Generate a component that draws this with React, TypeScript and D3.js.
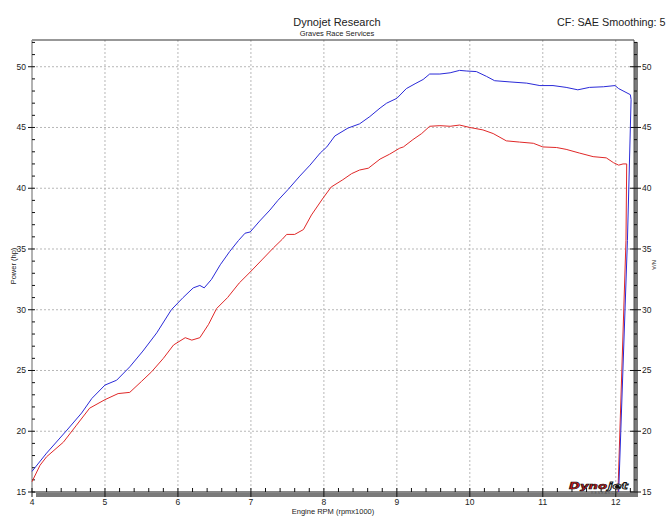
import React from "react";
import * as d3 from "d3";

const xTickLabels = [4, 5, 6, 7, 8, 9, 10, 11, 12];
const yTickLabels = [15, 20, 25, 30, 35, 40, 45, 50];

const blueRpm = [4.0, 4.2, 4.48, 4.68, 4.82, 5.0, 5.16, 5.34, 5.52, 5.71, 5.91, 6.07, 6.21, 6.3, 6.36, 6.46, 6.58, 6.71, 6.83, 6.92, 6.99, 7.12, 7.26, 7.37, 7.51, 7.67, 7.81, 7.95, 8.04, 8.15, 8.33, 8.49, 8.63, 8.77, 8.86, 9.0, 9.13, 9.25, 9.36, 9.45, 9.59, 9.73, 9.86, 9.95, 10.09, 10.23, 10.34, 10.55, 10.78, 10.96, 11.14, 11.32, 11.48, 11.64, 11.83, 11.99, 12.04, 12.2, 12.21, 12.16, 12.04];
const blueHp = [16.7, 18.2, 20.1, 21.5, 22.7, 23.8, 24.2, 25.3, 26.6, 28.1, 30.0, 31.0, 31.8, 32.0, 31.8, 32.5, 33.7, 34.8, 35.7, 36.3, 36.4, 37.3, 38.2, 39.0, 39.9, 41.0, 41.9, 42.9, 43.4, 44.3, 44.95, 45.3, 45.9, 46.6, 47.0, 47.4, 48.2, 48.6, 48.95, 49.4, 49.4, 49.5, 49.7, 49.65, 49.6, 49.2, 48.85, 48.75, 48.65, 48.45, 48.45, 48.3, 48.1, 48.3, 48.35, 48.45, 48.2, 47.7, 47.3, 35.7, 15.0];

const redRpm = [4.0, 4.11, 4.2, 4.43, 4.61, 4.79, 5.0, 5.18, 5.34, 5.5, 5.64, 5.8, 5.94, 6.1, 6.19, 6.3, 6.42, 6.53, 6.68, 6.84, 6.99, 7.15, 7.31, 7.43, 7.49, 7.6, 7.72, 7.83, 7.99, 8.1, 8.26, 8.38, 8.49, 8.61, 8.77, 8.9, 9.04, 9.09, 9.22, 9.34, 9.45, 9.59, 9.73, 9.86, 10.0, 10.18, 10.32, 10.5, 10.68, 10.87, 11.0, 11.19, 11.32, 11.5, 11.69, 11.87, 11.97, 12.04, 12.1, 12.15, 12.14, 12.03];
const redHp = [15.85, 17.2, 17.9, 19.1, 20.5, 21.9, 22.6, 23.1, 23.2, 24.1, 24.9, 26.0, 27.1, 27.7, 27.5, 27.7, 28.8, 30.1, 31.0, 32.2, 33.1, 34.1, 35.1, 35.8, 36.2, 36.2, 36.6, 37.8, 39.2, 40.1, 40.7, 41.2, 41.5, 41.65, 42.4, 42.8, 43.3, 43.4, 44.0, 44.5, 45.1, 45.15, 45.1, 45.2, 45.0, 44.8, 44.5, 43.9, 43.8, 43.7, 43.4, 43.35, 43.2, 42.9, 42.6, 42.5, 42.1, 41.9, 42.0, 42.0, 35.7, 15.0];

const W = 667;
const H = 522;
const FONT = "'Liberation Sans', Arial, sans-serif";

export default function App() {
  const x = d3.scaleLinear().domain([4, 12.25]).range([32, 634]);
  const y = d3.scaleLinear().domain([15, 52.2]).range([492, 40]);

  const line = d3
    .line<[number, number]>()
    .x((d) => x(d[0]))
    .y((d) => y(d[1]));

  const blue: [number, number][] = blueRpm.map((r, i) => [r, blueHp[i]]);
  const red: [number, number][] = redRpm.map((r, i) => [r, redHp[i]]);

  const xMinor = d3.range(0, 42).map((i) => 4 + i * 0.2).filter((v) => v <= 12.25);
  const yMinor = d3.range(15, 53);

  const left = x(4);
  const right = x(12.25);
  const top = y(52.2);
  const bottom = y(15);

  return (
    <svg
      width={W}
      height={H}
      style={{ position: "absolute", left: 0, top: 0, background: "#fff" }}
      fontFamily={FONT}
    >
      <rect x={0} y={0} width={W} height={H} fill="#fff" />
      {/* titles */}
      <text x={337} y={26} textAnchor="middle" fontSize={11} fill="#222">
        Dynojet Research
      </text>
      <text x={337} y={36} textAnchor="middle" fontSize={7.5} fill="#222">
        Graves Race Services
      </text>
      <text x={557} y={26} fontSize={10.8} fill="#222">
        CF: SAE Smoothing: 5
      </text>

      {/* grid */}
      {xTickLabels.slice(1).map((v) => (
        <line
          key={"gx" + v}
          x1={x(v)}
          x2={x(v)}
          y1={top}
          y2={bottom}
          stroke="#b8b8b8"
          strokeDasharray="2,2"
        />
      ))}
      {yTickLabels.slice(1).map((v) => (
        <line
          key={"gy" + v}
          x1={left}
          x2={right}
          y1={y(v)}
          y2={y(v)}
          stroke="#b8b8b8"
          strokeDasharray="2,2"
        />
      ))}

      {/* shadow bars */}
      <rect x={right} y={top + 2} width={4} height={bottom - top + 3} fill="#7a7a7a" />
      <rect x={left + 4} y={bottom + 1} width={right - left} height={4} fill="#7a7a7a" />

      {/* frame */}
      <line x1={left} x2={right} y1={top} y2={top} stroke="#333" strokeWidth={1.2} />
      <line x1={left} x2={left} y1={top} y2={bottom} stroke="#999" strokeWidth={1.5} />
      <line x1={left} x2={right} y1={bottom} y2={bottom} stroke="#111" strokeWidth={1.2} />
      <line x1={right} x2={right} y1={top} y2={bottom} stroke="#555" strokeWidth={1} />

      {/* x ticks */}
      {xMinor.map((v, i) => {
        const major = Math.abs(v - Math.round(v)) < 1e-6;
        return (
          <line
            key={"xt" + i}
            x1={x(v)}
            x2={x(v)}
            y1={bottom - 4}
            y2={major ? bottom + 5 : bottom}
            stroke="#111"
            strokeWidth={1}
          />
        );
      })}
      {xTickLabels.map((v) => (
        <text key={"xl" + v} x={x(v)} y={505} textAnchor="middle" fontSize={8.5} fill="#222">
          {v}
        </text>
      ))}
      <text x={333} y={514} textAnchor="middle" fontSize={7.5} fill="#222">
        Engine RPM (rpmx1000)
      </text>

      {/* y ticks left */}
      {yMinor.map((v) => {
        const major = v % 5 === 0;
        return (
          <line
            key={"ylt" + v}
            x1={major ? left - 4 : left}
            x2={left + 3}
            y1={y(v)}
            y2={y(v)}
            stroke="#111"
            strokeWidth={1}
          />
        );
      })}
      {yTickLabels.map((v) => (
        <text key={"yl" + v} x={26} y={y(v) + 3} textAnchor="end" fontSize={8.5} fill="#222">
          {v}
        </text>
      ))}
      <text
        transform={`translate(16,${(top + bottom) / 2})`}
        fontSize={7.5}
        fill="#222"
      >
        <tspan transform="rotate(-90)" />
      </text>
      <text
        transform={`translate(16,${(top + bottom) / 2}) rotate(-90)`}
        textAnchor="middle"
        fontSize={7.5}
        fill="#222"
      >
        Power (hp)
      </text>

      {/* y ticks right */}
      {yMinor.map((v) => {
        const major = v % 5 === 0;
        return (
          <line
            key={"yrt" + v}
            x1={major ? right - 4 : right}
            x2={major ? right + 7 : right + 3}
            y1={y(v)}
            y2={y(v)}
            stroke="#111"
            strokeWidth={1}
          />
        );
      })}
      {yTickLabels.map((v) => (
        <text key={"yr" + v} x={642} y={y(v) + 3} textAnchor="start" fontSize={8.5} fill="#222">
          {v}
        </text>
      ))}
      <text
        transform={`translate(652,265) rotate(90)`}
        textAnchor="middle"
        fontSize={6}
        fill="#333"
      >
        N/A
      </text>

      {/* curves */}
      <path d={line(red) || ""} fill="none" stroke="#e02828" strokeWidth={1} />
      <path d={line(blue) || ""} fill="none" stroke="#2a2ad8" strokeWidth={1} />

      {/* logo */}
      <g transform="translate(569,489)">
        <text
          x={0}
          y={0}
          fontSize={9}
          fontWeight="bold"
          fontStyle="italic"
          fill="#d01818"
          stroke="#111"
          strokeWidth={0.6}
          textLength={38}
          lengthAdjust="spacingAndGlyphs"
          fontFamily="'DejaVu Sans', sans-serif"
        >
          Dyno
        </text>
        <text
          x={39}
          y={0}
          fontSize={9}
          fontWeight="bold"
          fontStyle="italic"
          fill="#fff"
          stroke="#111"
          strokeWidth={0.8}
          textLength={20}
          lengthAdjust="spacingAndGlyphs"
          fontFamily="'DejaVu Sans', sans-serif"
        >
          jet
        </text>
        <text x={22} y={5} fontSize={3.5} fill="#555" letterSpacing={1}>
          RESEARCH
        </text>
      </g>
    </svg>
  );
}
